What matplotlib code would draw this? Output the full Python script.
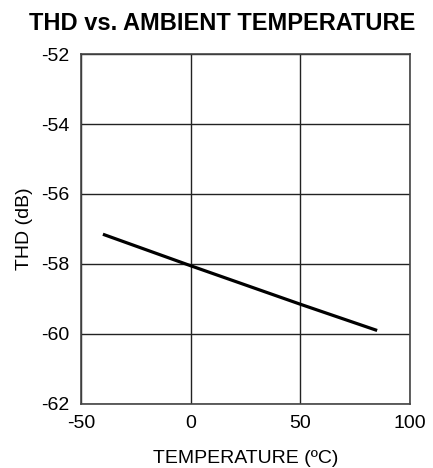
import matplotlib
matplotlib.use("Agg")
import matplotlib.pyplot as plt

plt.rcParams['font.family'] = ['Liberation Sans', 'DejaVu Sans']

# THD measured over ambient temperature
temperature_c = [-40, -20, 0, 25, 50, 85]
thd_db = [-57.15, -57.6, -58.05, -58.6, -59.15, -59.9]

x_ticks = [-50, 0, 50, 100]
y_ticks = [-62, -60, -58, -56, -54, -52]

fig = plt.figure(figsize=(4.33, 4.68), dpi=100)
ax = fig.add_axes([0.187, 0.1368, 0.760, 0.7478])

ax.plot(temperature_c, thd_db, color='black', linewidth=2.3, solid_capstyle='butt', zorder=3)

ax.set_xlim(-50, 100)
ax.set_ylim(-62, -52)
ax.set_xticks(x_ticks)
ax.set_yticks(y_ticks)
ax.set_xticklabels([str(v) for v in x_ticks])
ax.set_yticklabels([str(v) for v in y_ticks])
ax.tick_params(length=0, labelsize=14, colors='black')
ax.tick_params(axis='x', pad=8)
ax.tick_params(axis='y', pad=8)

ax.grid(True, color='#222222', linewidth=1.0)
ax.set_axisbelow(True)
for s in ax.spines.values():
    s.set_color('#444444')
    s.set_linewidth(1.2)

ax.set_xlabel('TEMPERATURE (ºC)', fontsize=14, labelpad=13)
ax.set_ylabel('THD (dB)', fontsize=14, labelpad=6)

fig.suptitle('THD vs. AMBIENT TEMPERATURE', fontsize=17, fontweight='bold', x=0.513, y=0.975)

fig.savefig('out.png', dpi=100)
